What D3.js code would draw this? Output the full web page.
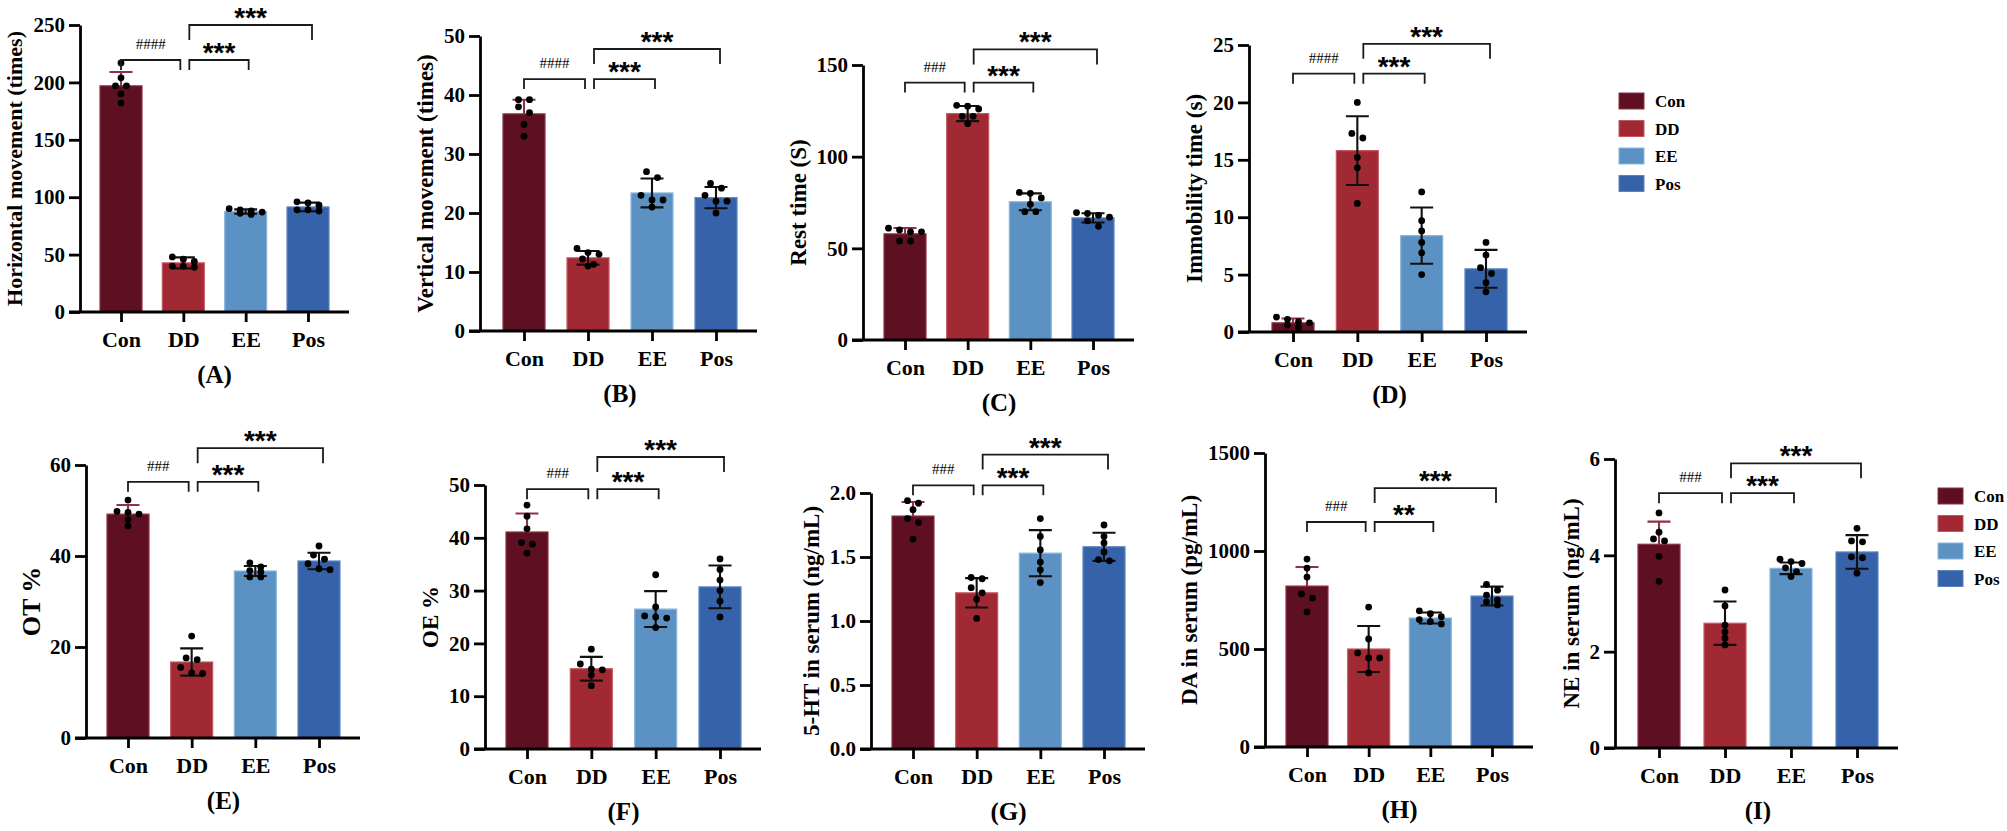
<!DOCTYPE html>
<html>
<head>
<meta charset="utf-8">
<script src="https://cdn.jsdelivr.net/npm/d3@7"></script>
<style>
body{margin:0;background:#fff;}
text{font-family:"Liberation Serif","Times New Roman",serif;font-weight:bold;fill:#000;}
</style>
</head>
<body>
<svg id="fig" width="2007" height="831"></svg>
<script>
// groups and panel labels
var groups = ["Con","DD","EE","Pos"];
var panelLetters = ["A","B","C","D","E","F","G","H","I"];
var yTitles = ["Horizontal movement (times)","Vertical movement (times)","Rest time (S)",
               "Immobility time (s)","OT %","OE %","5-HT in serum (ng/mL)",
               "DA in serum (pg/mL)","NE in serum (ng/mL)"];
var yMax  = [250, 50, 150, 25, 60, 50, 2, 1500, 6];
var yStep = [50, 10, 50, 5, 20, 10, 0.5, 500, 2];

// bar heights (mean) and error bars (SD), Con, DD, EE, Pos
var means = [
    [197, 42.8, 87.5, 91.5],
    [36.8, 12.4, 23.4, 22.6],
    [57.9, 123.5, 75.4, 66.6],
    [0.8, 15.8, 8.4, 5.5],
    [49.2, 16.7, 36.7, 38.9],
    [41.1, 15.2, 26.5, 30.7],
    [1.82, 1.22, 1.53, 1.58],
    [821, 500, 658, 770],
    [4.23, 2.59, 3.73, 4.07]
];
var sds = [
    [12, 4.8, 1.9, 3.8],
    [2.4, 1.15, 2.45, 1.8],
    [3.2, 4.1, 4.6, 2.5],
    [0.38, 3.0, 2.45, 1.65],
    [2.0, 3.0, 1.1, 1.8],
    [3.5, 2.25, 3.4, 4.05],
    [0.11, 0.115, 0.18, 0.11],
    [97, 117, 28, 48],
    [0.47, 0.45, 0.12, 0.35]
];

// individual animals (6 per group)
var dotsA = [[217,204,197,197,190,182],[48,46,44,40,39,40],[90,89,88,86,85,87],[96,95,93,89,88,89]];
var dotsB = [[39.2,39.2,38,37,35,33],[14,13.3,13,12.2,11.3,11],[27,26,23,22.2,22.2,21],[25,24.2,23,22,22,20]];
var dotsC = [[61,60,59,59,54,54],[128,127.5,126,122,122,118],[80.5,80,77.5,74,70,70],[69.5,69,68,67,65,62]];
var dotsD = [[1.3,1.1,0.9,0.8,0.6,0.4],[20,17.3,16.9,15.2,14.3,11.2],[12.2,9.7,8.8,7.8,6.9,5.0],[7.8,6.7,5.6,5.1,4.3,3.5]];
var dotsE = [[52.3,49.8,49.6,49.2,48,46.6],[22.4,17.6,17.2,15.5,14.3,14.2],[38.5,37.6,36.8,36.5,35.4,35.4],[42.2,40.2,39.3,38.3,37.2,37]];
var dotsF = [[46.2,44.1,41.7,39.1,38.8,37.1],[18.9,16.1,15.1,15,14,12],[33,26.9,25.2,25,24.8,23],[36,34,32,30,28,25]];
var dotsG = [[1.94,1.92,1.87,1.8,1.77,1.64],[1.34,1.33,1.26,1.22,1.17,1.02],[1.8,1.66,1.555,1.46,1.40,1.30],[1.75,1.66,1.61,1.54,1.48,1.47]];
var dotsH = [[959,913,867,781,760,689],[714,551,480,454,454,378],[695,680,665,650,640,628],[830,800,775,750,740,725]];
var dotsI = [[4.88,4.48,4.34,4.3,3.98,3.46],[3.28,2.95,2.55,2.41,2.28,2.14],[3.92,3.87,3.83,3.74,3.66,3.56],[4.56,4.3,4.28,3.97,3.95,3.63]];
var dots = [dotsA,dotsB,dotsC,dotsD,dotsE,dotsF,dotsG,dotsH,dotsI];

// significance annotations
var hashLabels = ["####","####","###","####","###","###","###","###","###"];
var eeLabels   = ["***","***","***","***","***","***","***","**","***"];
var posLabels  = ["***","***","***","***","***","***","***","***","***"];
var bracketLow  = [219.5, 42.7, 140.4, 22.5, 56.3, 49.2, 2.06, 1148, 5.29];
var bracketHigh = [250, 47.8, 158.5, 25.1, 63.7, 55.3, 2.30, 1321, 5.91];

// styling
var colors  = ["#5e1022","#a12933","#5b92c3","#3562a8"];
var borders = ["#8a3146","#c45860","#8db6dc","#5b84c0"];
var conErr = "#8e3346";

// pixel frame of each panel
var frames = [
    {ax:80,   y0:312, yTop:25,  c0:121,  c3:308,  ts:22},
    {ax:480,  y0:331, yTop:36,  c0:524,  c3:716,  ts:23},
    {ax:863,  y0:340, yTop:65,  c0:905,  c3:1093, ts:23},
    {ax:1249, y0:332, yTop:45,  c0:1293, c3:1486, ts:23},
    {ax:86,   y0:738, yTop:465, c0:128,  c3:319,  ts:26},
    {ax:485,  y0:749, yTop:485, c0:527,  c3:720,  ts:23},
    {ax:871,  y0:749, yTop:493, c0:913,  c3:1104, ts:23},
    {ax:1265, y0:747, yTop:453, c0:1307, c3:1492, ts:23},
    {ax:1615, y0:748, yTop:459, c0:1659, c3:1857, ts:23}
];

// spreads the dots of one group sideways where they overlap
var swarm = function(vals, yScale)
{
    var pts = vals.map(function(v){ return {v:v, y:yScale(v), dx:0}; })
        .sort(function(a,b){ return a.y - b.y; });
    var rows = [];
    pts.forEach(function(p)
    {
        var row = rows[rows.length-1];
        if (row && p.y - row[0].y < 6 && row.length < 4) row.push(p);
        else rows.push([p]);
    });
    rows.forEach(function(row)
    {
        row.forEach(function(p,k){ p.dx = (k-(row.length-1)/2)*11; });
    });
    return pts;
}

var drawErr = function(g, x, m, s, yScale, color)
{
    var top = yScale(m+s), bot = yScale(m-s);
    g.append("path")
        .attr("d","M"+x+","+bot+"V"+top+"M"+(x-11.5)+","+top+"H"+(x+11.5)+
                  "M"+(x-11.5)+","+bot+"H"+(x+11.5))
        .attr("fill","none")
        .attr("stroke",color)
        .attr("stroke-width",2.1);
}

var drawBracket = function(g, x1, x2, y, drop, label, hash)
{
    g.append("path")
        .attr("d","M"+x1+","+(y+drop)+"V"+y+"H"+x2+"V"+(y+drop))
        .attr("fill","none")
        .attr("stroke","#1a1a1a")
        .attr("stroke-width",1.8);
    var t = g.append("text")
        .attr("x",(x1+x2)/2)
        .attr("text-anchor","middle")
        .text(label);
    if (hash)
    {
        t.attr("y",y-11).style("font-size","15px").style("font-weight","normal");
    }
    else
    {
        t.attr("y",y+2)
         .style("font-family","'Liberation Sans',Arial,sans-serif")
         .style("font-size","28px");
    }
}

var drawPanel = function(svg, i)
{
    var f = frames[i];
    var yScale = d3.scaleLinear().domain([0,yMax[i]]).range([f.y0,f.yTop]);
    var xScale = d3.scalePoint().domain(groups).range([f.c0,f.c3]);
    var g = svg.append("g").classed("panel",true);

    // y axis
    var yAxis = d3.axisLeft(yScale)
        .tickValues(d3.range(0, yMax[i]+yStep[i]/2, yStep[i]))
        .tickFormat(yMax[i] <= 2 ? d3.format(".1f") : d3.format("d"))
        .tickSize(11)
        .tickSizeOuter(0)
        .tickPadding(4);
    var ya = g.append("g")
        .attr("transform","translate("+f.ax+",0)")
        .call(yAxis);
    ya.select(".domain").attr("stroke-width",2.8);
    ya.selectAll(".tick line").attr("stroke-width",2.8);
    ya.selectAll(".tick text").style("font-size","21px");

    // x axis
    var xa = g.append("g")
        .attr("transform","translate(0,"+f.y0+")")
        .call(d3.axisBottom(xScale).tickSize(10).tickSizeOuter(0).tickPadding(9));
    xa.select(".domain").remove();
    xa.selectAll(".tick line").attr("stroke-width",2.8);
    xa.selectAll(".tick text").style("font-size","22px");

    // y title, placed left of the tick labels
    var left = f.ax + ya.node().getBBox().x;
    g.append("text")
        .attr("transform","translate("+(left-19)+","+((f.y0+f.yTop)/2)+") rotate(-90)")
        .attr("text-anchor","middle")
        .attr("dy","0.35em")
        .style("font-size",f.ts+"px")
        .text(yTitles[i]);

    // Con error bar sits behind its bar
    drawErr(g, xScale("Con"), means[i][0], sds[i][0], yScale, conErr);

    g.selectAll("rect.bar")
        .data(groups)
        .enter()
        .append("rect")
        .classed("bar",true)
        .attr("x",function(d){ return xScale(d)-21; })
        .attr("width",42)
        .attr("y",function(d,j){ return yScale(means[i][j]); })
        .attr("height",function(d,j){ return f.y0 - yScale(means[i][j]); })
        .attr("fill",function(d,j){ return colors[j]; })
        .attr("stroke",function(d,j){ return borders[j]; })
        .attr("stroke-width",1.2);

    xa.raise();
    g.append("line")
        .attr("x1",f.ax-11).attr("x2",f.c3+41)
        .attr("y1",f.y0).attr("y2",f.y0)
        .attr("stroke","#000").attr("stroke-width",2.8);

    for (var j=1; j<4; j++)
    {
        drawErr(g, xScale(groups[j]), means[i][j], sds[i][j], yScale, "#111");
    }

    // dots
    groups.forEach(function(grp,j)
    {
        g.selectAll("circle.d"+j)
            .data(swarm(dots[i][j], yScale))
            .enter()
            .append("circle")
            .attr("cx",function(p){ return xScale(grp)+p.dx; })
            .attr("cy",function(p){ return p.y; })
            .attr("r",3.4)
            .attr("fill","#000");
    });

    // significance brackets
    var yl = yScale(bracketLow[i]), yh = yScale(bracketHigh[i]);
    var xc = xScale("Con"), xd = xScale("DD"), xe = xScale("EE"), xp = xScale("Pos");
    drawBracket(g, xc, xd-3, yl, 10, hashLabels[i], true);
    drawBracket(g, xd+6, xe+3, yl, 10, eeLabels[i], false);
    drawBracket(g, xd+6, xp+4, yh, 15, posLabels[i], false);

    // panel letter
    g.append("text")
        .attr("x",(f.c0+f.c3)/2)
        .attr("y",f.y0+71)
        .attr("text-anchor","middle")
        .style("font-size","25px")
        .text("("+panelLetters[i]+")");
}

var drawLegend = function(svg, x, y)
{
    var lg = svg.append("g").attr("transform","translate("+x+","+y+")");
    var items = lg.selectAll("g")
        .data(groups)
        .enter()
        .append("g")
        .attr("transform",function(d,j){ return "translate(0,"+(j*27.5)+")"; });
    items.append("rect")
        .attr("width",25).attr("height",16)
        .attr("fill",function(d,j){ return colors[j]; })
        .attr("stroke",function(d,j){ return borders[j]; })
        .attr("stroke-width",1);
    items.append("text")
        .attr("x",36).attr("y",14)
        .style("font-size","17px")
        .text(function(d){ return d; });
}

var svg = d3.select("#fig");
for (var i=0; i<9; i++) drawPanel(svg, i);
drawLegend(svg, 1619, 93);
drawLegend(svg, 1938, 488);
</script>
</body>
</html>
